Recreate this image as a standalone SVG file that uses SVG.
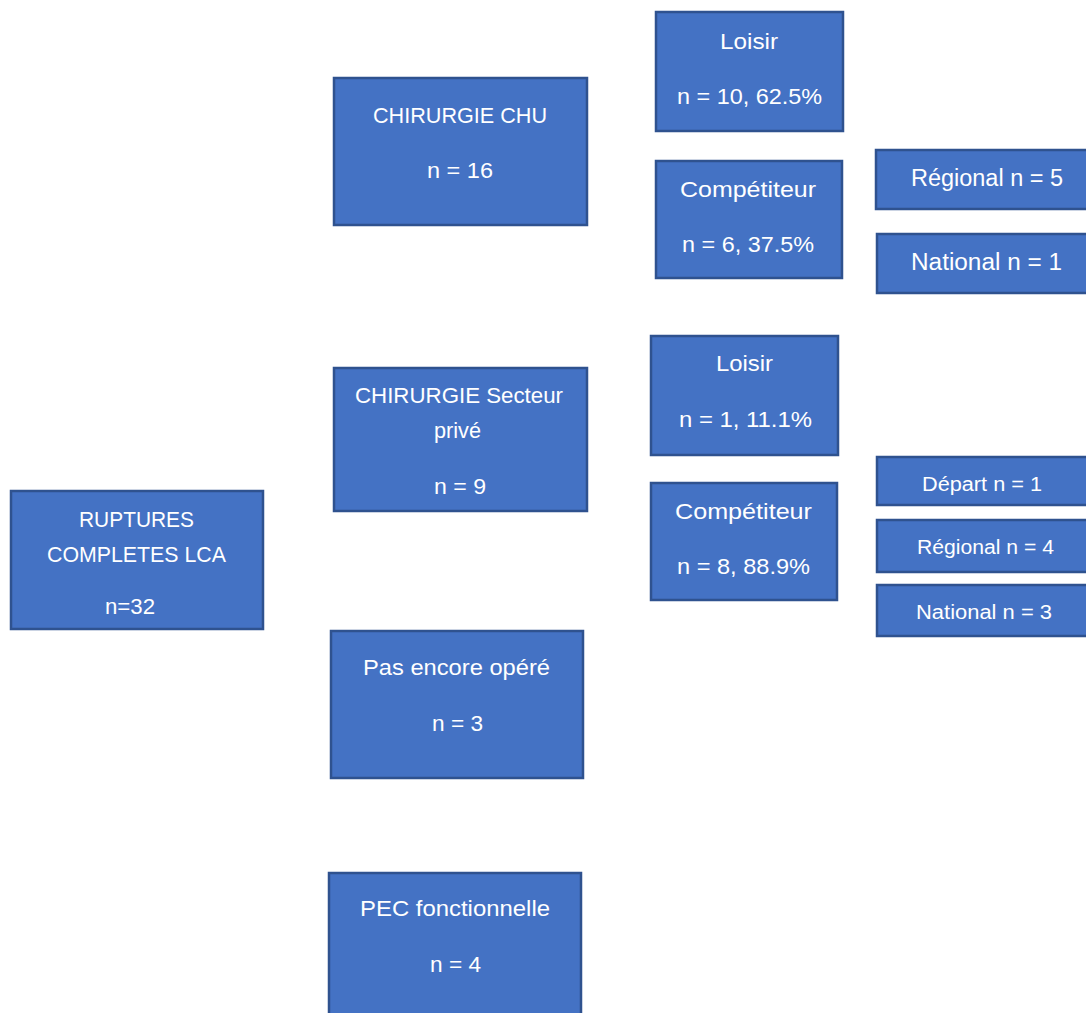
<svg xmlns="http://www.w3.org/2000/svg" width="1086" height="1013" viewBox="0 0 1086 1013">
<style>
.box{fill:#4472C4;stroke:#2F528F;stroke-width:2.5}
text{font-family:"Liberation Sans","Open Sans",Arial,sans-serif;fill:#FFFFFF;text-anchor:middle;font-size:22px}
.s{font-size:20px}
.m{font-size:23px}
</style>
<rect width="1086" height="1013" fill="#FFFFFF"/>
<g id="connectors"></g>
<g id="root">
<rect class="box" x="11" y="491" width="252" height="138"/>
<text x="136.5" y="527" textLength="115" lengthAdjust="spacingAndGlyphs">RUPTURES</text>
<text x="136.5" y="562" textLength="179" lengthAdjust="spacingAndGlyphs">COMPLETES LCA</text>
<text x="130" y="614" textLength="50" lengthAdjust="spacingAndGlyphs">n=32</text>
</g>
<g id="chu">
<rect class="box" x="334" y="78" width="253" height="147"/>
<text x="460" y="123" textLength="174" lengthAdjust="spacingAndGlyphs">CHIRURGIE CHU</text>
<text x="460" y="178" textLength="66" lengthAdjust="spacingAndGlyphs">n = 16</text>
</g>
<g id="chu-loisir">
<rect class="box" x="656" y="12" width="187" height="119"/>
<text x="749" y="49" textLength="58" lengthAdjust="spacingAndGlyphs">Loisir</text>
<text x="749.5" y="104" textLength="145" lengthAdjust="spacingAndGlyphs">n = 10, 62.5%</text>
</g>
<g id="chu-competiteur">
<rect class="box" x="656" y="161" width="186" height="117"/>
<text x="748" y="197" textLength="136" lengthAdjust="spacingAndGlyphs">Compétiteur</text>
<text x="748" y="252" textLength="132" lengthAdjust="spacingAndGlyphs">n = 6, 37.5%</text>
</g>
<g id="chu-regional">
<rect class="box m" x="876" y="150" width="214" height="59"/>
<text class="m" x="987" y="186" textLength="152" lengthAdjust="spacingAndGlyphs">Régional n = 5</text>
</g>
<g id="chu-national">
<rect class="box" x="877" y="234" width="213" height="59"/>
<text class="m" x="986.5" y="270" textLength="151" lengthAdjust="spacingAndGlyphs">National n = 1</text>
</g>
<g id="prive">
<rect class="box" x="334" y="368" width="253" height="143"/>
<text x="459" y="403" textLength="208" lengthAdjust="spacingAndGlyphs">CHIRURGIE Secteur</text>
<text x="457.5" y="438" textLength="47" lengthAdjust="spacingAndGlyphs">privé</text>
<text x="460" y="494" textLength="52" lengthAdjust="spacingAndGlyphs">n = 9</text>
</g>
<g id="prive-loisir">
<rect class="box" x="651" y="336" width="187" height="119"/>
<text x="744.5" y="371" textLength="57" lengthAdjust="spacingAndGlyphs">Loisir</text>
<text x="745.5" y="427" textLength="133" lengthAdjust="spacingAndGlyphs">n = 1, 11.1%</text>
</g>
<g id="prive-competiteur">
<rect class="box" x="651" y="483" width="186" height="117"/>
<text x="743.5" y="519" textLength="137" lengthAdjust="spacingAndGlyphs">Compétiteur</text>
<text x="743.5" y="574" textLength="133" lengthAdjust="spacingAndGlyphs">n = 8, 88.9%</text>
</g>
<g id="prive-depart">
<rect class="box" x="877" y="457" width="213" height="48"/>
<text class="s" x="982" y="491" textLength="120" lengthAdjust="spacingAndGlyphs">Départ n = 1</text>
</g>
<g id="prive-regional">
<rect class="box" x="877" y="520" width="213" height="52"/>
<text class="s" x="985.5" y="554" textLength="137" lengthAdjust="spacingAndGlyphs">Régional n = 4</text>
</g>
<g id="prive-national">
<rect class="box" x="877" y="585" width="213" height="51"/>
<text class="s" x="984" y="619" textLength="136" lengthAdjust="spacingAndGlyphs">National n = 3</text>
</g>
<g id="pas-opere">
<rect class="box" x="331" y="631" width="252" height="147"/>
<text x="456.5" y="675" textLength="187" lengthAdjust="spacingAndGlyphs">Pas encore opéré</text>
<text x="457.5" y="731" textLength="51" lengthAdjust="spacingAndGlyphs">n = 3</text>
</g>
<g id="pec">
<rect class="box" x="329" y="873" width="252" height="150"/>
<text x="455" y="916" textLength="190" lengthAdjust="spacingAndGlyphs">PEC fonctionnelle</text>
<text x="455.5" y="972" textLength="51" lengthAdjust="spacingAndGlyphs">n = 4</text>
</g>
</svg>
